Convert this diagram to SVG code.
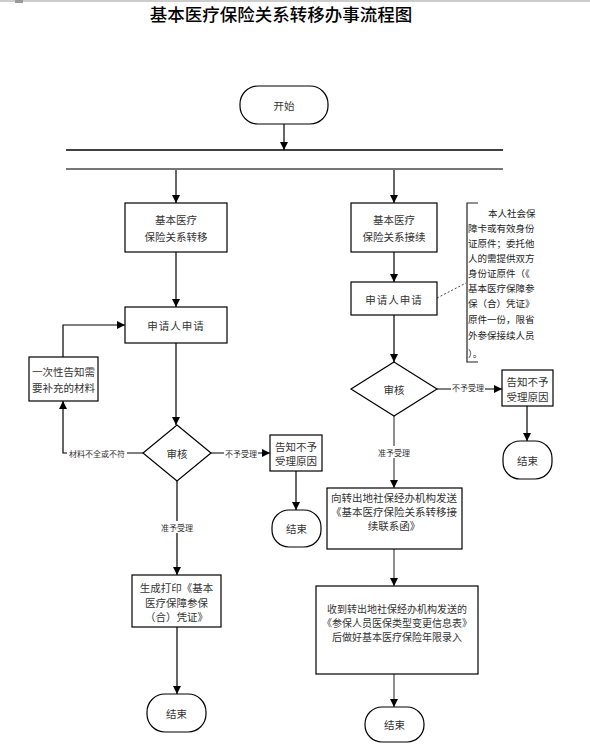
<svg xmlns="http://www.w3.org/2000/svg" width="590" height="748" viewBox="0 0 590 748">
<defs>
<marker id="arr" viewBox="0 0 10 10" refX="10" refY="5" markerWidth="8" markerHeight="8" markerUnits="userSpaceOnUse" orient="auto">
<path d="M0,0 L10,5 L0,10 z" fill="#000"/>
</marker>
<style>
.box{fill:#fff;stroke:#000;stroke-width:1.2}
.term{fill:#fff;stroke:#000;stroke-width:1.2}
.t{font-family:"Noto Sans CJK SC","Liberation Sans",sans-serif;font-size:10.5px;fill:#333;text-anchor:middle;dominant-baseline:central}
.lbl{font-family:"Noto Sans CJK SC","Liberation Sans",sans-serif;font-size:8px;fill:#333;text-anchor:middle;dominant-baseline:central}
.c{fill:none;stroke:#000;stroke-width:1.2}
.cg{fill:none;stroke:#444;stroke-width:1.2}
.note{font-family:"Noto Sans CJK SC","Liberation Sans",sans-serif;font-size:9.5px;fill:#222;dominant-baseline:central}
</style>
</defs>
<rect width="590" height="748" fill="#fff"/>
<line x1="0" y1="1" x2="590" y2="1" stroke="#ccc" stroke-width="2"/>
<rect x="15" y="0" width="8" height="3" fill="#999"/>
<text x="281" y="13" font-family="Noto Sans CJK SC, sans-serif" font-size="17.5" font-weight="500" fill="#000" text-anchor="middle" dominant-baseline="central">基本医疗保险关系转移办事流程图</text>

<g id="connectors">
<line x1="66" y1="150" x2="503" y2="150" stroke="#000" stroke-width="1.5"/>
<line x1="66" y1="169" x2="503" y2="169" stroke="#777" stroke-width="2"/>
<line class="c" x1="284" y1="124" x2="284" y2="150" marker-end="url(#arr)"/>
<line class="c" x1="176" y1="170" x2="176" y2="203" marker-end="url(#arr)"/>
<line class="c" x1="394" y1="170" x2="394" y2="203" marker-end="url(#arr)"/>
<line class="c" x1="176" y1="252" x2="176" y2="307" marker-end="url(#arr)"/>
<line class="c" x1="176" y1="343" x2="176" y2="425" marker-end="url(#arr)"/>
<polyline class="c" points="63,357 63,325 125,325" marker-end="url(#arr)"/>
<polyline class="c" points="143,453 63,453 63,401" marker-end="url(#arr)"/>
<rect x="67" y="447" width="60" height="12" fill="#fff"/>
<text class="lbl" x="97" y="453">材料不全或不符</text>
<line class="c" x1="211" y1="453" x2="270" y2="453" marker-end="url(#arr)"/>
<rect x="224" y="447" width="34" height="12" fill="#fff"/>
<text class="lbl" x="241" y="453">不予受理</text>
<line class="c" x1="296" y1="471" x2="296" y2="510" marker-end="url(#arr)"/>
<line class="c" x1="177" y1="481" x2="177" y2="575" marker-end="url(#arr)"/>
<rect x="159" y="521" width="36" height="12" fill="#fff"/>
<text class="lbl" x="177" y="527">准予受理</text>
<line class="c" x1="177" y1="627" x2="177" y2="694" marker-end="url(#arr)"/>

<line class="c" x1="394" y1="252" x2="394" y2="282" marker-end="url(#arr)"/>
<line class="c" x1="394" y1="315" x2="394" y2="362" marker-end="url(#arr)"/>
<line class="c" x1="437" y1="389" x2="502" y2="389" marker-end="url(#arr)"/>
<rect x="451" y="382" width="34" height="12" fill="#fff"/>
<text class="lbl" x="468" y="387">不予受理</text>
<line class="c" x1="527" y1="406" x2="527" y2="441" marker-end="url(#arr)"/>
<line class="cg" x1="394" y1="416" x2="394" y2="488" marker-end="url(#arr)"/>
<rect x="376" y="446" width="36" height="12" fill="#fff"/>
<text class="lbl" x="394" y="452">准予受理</text>
<line class="cg" x1="394" y1="549" x2="394" y2="586" marker-end="url(#arr)"/>
<line class="cg" x1="394" y1="674" x2="394" y2="707" marker-end="url(#arr)"/>
<line x1="437" y1="298" x2="466" y2="283" stroke="#444" stroke-width="1" stroke-dasharray="2,2"/>
</g>

<g id="start">
<rect class="term" x="240" y="86" width="88" height="38" rx="18" ry="18"/>
<text class="t" x="284" y="105">开始</text>
</g>

<g id="transfer">
<rect class="box" x="125" y="203" width="102" height="49"/>
<text class="t" x="176" y="219">基本医疗</text>
<text class="t" x="176" y="236">保险关系转移</text>
</g>
<g id="apply-left">
<rect class="box" x="125" y="307" width="102" height="36"/>
<text class="t" x="176" y="325" letter-spacing="1">申请人申请</text>
</g>
<g id="supplement">
<rect class="box" x="29" y="357" width="69" height="44"/>
<text class="t" x="63.5" y="371">一次性告知需</text>
<text class="t" x="63.5" y="387">要补充的材料</text>
</g>
<g id="review-left">
<polygon class="box" points="177,425 211,453 177,481 143,453"/>
<text class="t" x="177" y="453">审核</text>
</g>
<g id="reject-left">
<rect class="box" x="270" y="435" width="52" height="36"/>
<text class="t" x="296" y="446">告知不予</text>
<text class="t" x="296" y="460">受理原因</text>
</g>
<g id="end-reject-left">
<rect class="term" x="272" y="510" width="49" height="37" rx="17" ry="17"/>
<text class="t" x="296.5" y="528">结束</text>
</g>
<g id="print">
<rect class="box" x="132" y="575" width="89" height="52"/>
<text class="t" x="176.5" y="587">生成打印《基本</text>
<text class="t" x="176.5" y="602">医疗保障参保</text>
<text class="t" x="176.5" y="616">（合）凭证》</text>
</g>
<g id="end-left">
<rect class="term" x="147" y="694" width="59" height="38" rx="18" ry="18"/>
<text class="t" x="176.5" y="713">结束</text>
</g>

<g id="continue">
<rect class="box" x="351" y="203" width="86" height="49"/>
<text class="t" x="394" y="219">基本医疗</text>
<text class="t" x="394" y="236">保险关系接续</text>
</g>
<g id="apply-right">
<rect class="box" x="351" y="282" width="86" height="33"/>
<text class="t" x="394" y="299" letter-spacing="1">申请人申请</text>
</g>
<g id="note">
<polyline fill="none" stroke="#222" stroke-width="1.2" points="478,203 467,203 467,362 478,362"/>
<text class="note" x="488" y="213">本人社会保</text>
<text class="note" x="468" y="228">障卡或有效身份</text>
<text class="note" x="468" y="243">证原件；委托他</text>
<text class="note" x="468" y="258">人的需提供双方</text>
<text class="note" x="468" y="273">身份证原件（《</text>
<text class="note" x="468" y="288">基本医疗保障参</text>
<text class="note" x="468" y="303">保（合）凭证》</text>
<text class="note" x="468" y="319">原件一份，限省</text>
<text class="note" x="468" y="335">外参保接续人员</text>
<text class="note" x="468" y="353">）。</text>
</g>
<g id="review-right">
<polygon class="box" points="394,362 437,389 394,416 351,389"/>
<text class="t" x="394" y="389">审核</text>
</g>
<g id="reject-right">
<rect class="box" x="502" y="370" width="51" height="36"/>
<text class="t" x="527.5" y="381">告知不予</text>
<text class="t" x="527.5" y="396">受理原因</text>
</g>
<g id="end-reject-right">
<rect class="term" x="503" y="441" width="49" height="38" rx="17" ry="17"/>
<text class="t" x="527.5" y="460">结束</text>
</g>
<g id="send">
<rect class="box" x="327" y="488" width="135" height="61"/>
<text class="t" x="394" y="497">向转出地社保经办机构发送</text>
<text class="t" x="394" y="511">《基本医疗保险关系转移接</text>
<text class="t" x="394" y="525">续联系函》</text>
</g>
<g id="receive">
<rect class="box" x="316" y="586" width="162" height="88"/>
<text class="t" x="397" y="608" style="font-size:10px">收到转出地社保经办机构发送的</text>
<text class="t" x="397" y="622" style="font-size:10px">《参保人员医保类型变更信息表》</text>
<text class="t" x="397" y="636" style="font-size:10px">后做好基本医疗保险年限录入</text>
</g>
<g id="end-right">
<rect class="term" x="365" y="707" width="59" height="35" rx="17" ry="17"/>
<text class="t" x="394.5" y="724">结束</text>
</g>
</svg>
